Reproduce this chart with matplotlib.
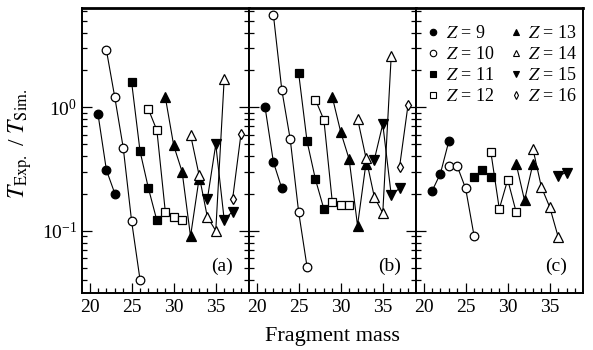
import matplotlib
matplotlib.use("Agg")
import matplotlib.pyplot as plt
from matplotlib.lines import Line2D
from matplotlib.ticker import LogLocator, NullFormatter, MultipleLocator

plt.rcParams["font.family"] = ["Liberation Serif", "DejaVu Serif"]
plt.rcParams["mathtext.fontset"] = "stix"

# Fragment masses and T_Exp./T_Sim. ratios for each charge Z, per panel
charges = [9, 10, 11, 12, 13, 14, 15, 16]

panel_a = {
    9: ([21, 22, 23], [0.88, 0.31, 0.20]),
    10: ([22, 23, 24, 25, 26], [2.9, 1.2, 0.47, 0.119, 0.040]),
    11: ([25, 26, 27, 28], [1.59, 0.44, 0.22, 0.121]),
    12: ([27, 28, 29, 30, 31], [0.96, 0.65, 0.143, 0.129, 0.121]),
    13: ([29, 30, 31, 32, 33], [1.21, 0.49, 0.30, 0.090, 0.26]),
    14: ([32, 33, 34, 35, 36], [0.60, 0.285, 0.129, 0.100, 1.69]),
    15: ([34, 35, 36, 37], [0.18, 0.50, 0.123, 0.143]),
    16: ([37, 38], [0.18, 0.61]),
}

panel_b = {
    9: ([21, 22, 23], [1.01, 0.36, 0.22]),
    10: ([22, 23, 24, 25, 26], [5.6, 1.38, 0.55, 0.142, 0.051]),
    11: ([25, 26, 27, 28], [1.89, 0.53, 0.26, 0.15]),
    12: ([27, 28, 29, 30, 31], [1.15, 0.79, 0.171, 0.161, 0.161]),
    13: ([29, 30, 31, 32, 33], [1.21, 0.63, 0.38, 0.11, 0.35]),
    14: ([32, 33, 34, 35, 36], [0.81, 0.39, 0.187, 0.139, 2.58]),
    15: ([34, 35, 36, 37], [0.377, 0.73, 0.196, 0.22]),
    16: ([37, 38], [0.33, 1.04]),
}

panel_c = {
    9: ([21, 22, 23], [0.209, 0.29, 0.53]),
    10: ([23, 24, 25, 26], [0.333, 0.333, 0.22, 0.091]),
    11: ([26, 27, 28], [0.273, 0.31, 0.273]),
    12: ([28, 29, 30, 31], [0.433, 0.150, 0.259, 0.142]),
    13: ([31, 32, 33], [0.349, 0.176, 0.349]),
    14: ([33, 34, 35, 36], [0.46, 0.226, 0.155, 0.089]),
    15: ([36, 37], [0.279, 0.296]),
}

panels = [(panel_a, "(a)"), (panel_b, "(b)"), (panel_c, "(c)")]

styles = {
    9: dict(marker="o", mfc="black", ms=6.2),
    10: dict(marker="o", mfc="white", ms=6.2),
    11: dict(marker="s", mfc="black", ms=5.8),
    12: dict(marker="s", mfc="white", ms=5.8),
    13: dict(marker="^", mfc="black", ms=6.5),
    14: dict(marker="^", mfc="white", ms=6.5),
    15: dict(marker="v", mfc="black", ms=6.5),
    16: dict(marker="d", mfc="white", ms=5.0),
}

fig = plt.figure(figsize=(5.93, 3.5), dpi=100)
left, right, bottom, top = 82 / 593, 583 / 593, 1 - 293 / 350, 1 - 8 / 350
width = (right - left) / 3

axes = []
for i, (data, tag) in enumerate(panels):
    ax = fig.add_axes([left + i * width, bottom, width, top - bottom])
    axes.append(ax)
    for z, (mass, ratio) in data.items():
        ax.plot(mass, ratio, color="black", lw=0.8, mec="black", mew=0.9,
                **styles[z])
    ax.set_yscale("log")
    ax.set_xlim(19.1, 38.95)
    ax.set_ylim(0.0313, 6.36)
    ax.xaxis.set_major_locator(MultipleLocator(5))
    ax.xaxis.set_minor_locator(MultipleLocator(1))
    ax.yaxis.set_major_locator(LogLocator(base=10))
    ax.yaxis.set_minor_locator(LogLocator(base=10, subs=range(2, 10)))
    ax.yaxis.set_minor_formatter(NullFormatter())
    ax.tick_params(which="both", direction="in", top=False,
                   right=(i < 2), labelsize=14, width=0.9)
    ax.tick_params(which="major", length=7)
    ax.tick_params(which="minor", length=3.5)
    ax.tick_params(axis="x", pad=4)
    if i > 0:
        ax.tick_params(labelleft=False)
    for side in ax.spines.values():
        side.set_linewidth(1.4)
    ax.spines["top"].set_linewidth(2.0)
    ax.text(0.84, 0.095, tag, transform=ax.transAxes, ha="center",
            va="center", fontsize=14)

handles = [Line2D([], [], color="black", ls="none", mec="black", mew=0.8,
                  **{**styles[z], "ms": styles[z]["ms"] * 0.75})
           for z in charges]
labels = [f"$Z$ = {z}" for z in charges]
axes[2].legend(handles, labels, ncol=2, loc="upper right",
               bbox_to_anchor=(1.01, 0.965), frameon=False,
               fontsize=13, handlelength=0.6, handletextpad=0.4,
               columnspacing=0.9, labelspacing=0.22, borderaxespad=0.0)

fig.text(left + 1.5 * width, 0.04, "Fragment mass", ha="center",
         va="center", fontsize=16)
fig.text(0.034, 0.59, r"$T_{\rm Exp.}$ / $T_{\rm Sim.}$", rotation=90,
         ha="center", va="center", fontsize=17)

fig.savefig("out.png", dpi=100)
